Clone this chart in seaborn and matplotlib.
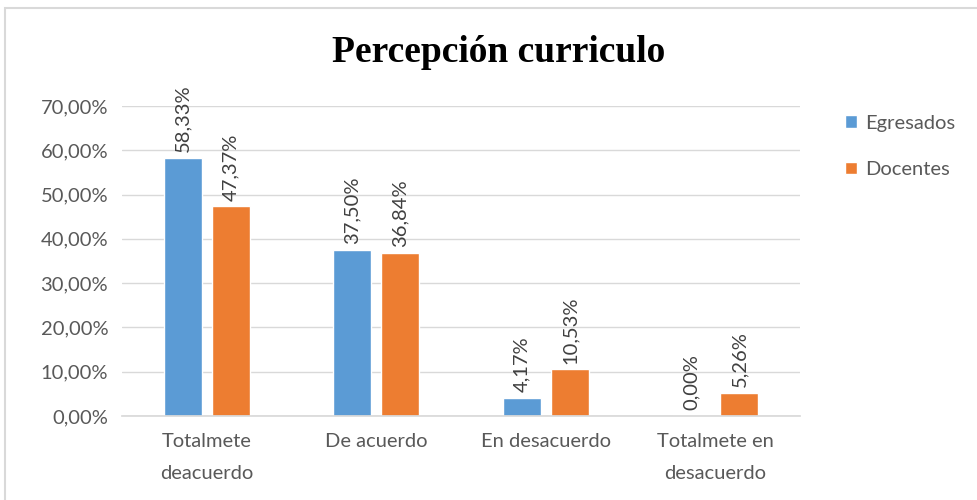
import pandas as pd
import seaborn as sns
import matplotlib.pyplot as plt
from matplotlib.patches import Rectangle
from matplotlib.ticker import FuncFormatter

# --- data ---
categories = ['Totalmete\ndeacuerdo', 'De acuerdo', 'En desacuerdo', 'Totalmete en\ndesacuerdo']
series = ['Egresados', 'Docentes']
egresados = [0.5833, 0.3750, 0.0417, 0.0]
docentes = [0.4737, 0.3684, 0.1053, 0.0526]
colors = ['#5B9BD5', '#ED7D31']

df = pd.DataFrame({
    'categoria': categories * 2,
    'grupo': [series[0]] * 4 + [series[1]] * 4,
    'valor': egresados + docentes,
})


def pct(v, pos=None):
    return f"{v * 100:.2f}%".replace('.', ',')


sns.set_theme(style="white")
plt.rcParams['font.family'] = ['Lato', 'DejaVu Sans']

fs = 14.5
fig = plt.figure(figsize=(9.77, 5.0), dpi=100)
ax = fig.add_axes([0.125, 0.168, 0.694, 0.62])

sns.barplot(data=df, x='categoria', y='valor', hue='grupo', palette=colors,
            width=0.566, gap=0.21, ax=ax, saturation=1)

ax.set_ylim(0, 0.70)
ax.set_yticks([i / 10 for i in range(8)])
ax.yaxis.set_major_formatter(FuncFormatter(pct))
ax.grid(axis='y', color='#D9D9D9', linewidth=1)
ax.set_axisbelow(True)
for side in ['top', 'left', 'right']:
    ax.spines[side].set_visible(False)
ax.spines['bottom'].set_color('#D9D9D9')
ax.tick_params(axis='both', length=0, labelsize=fs, colors='#595959', pad=10)
ax.tick_params(axis='x', pad=12)
for lab in ax.get_xticklabels():
    lab.set_linespacing(2.1)
    lab.set_va('top')
ax.set_xlabel('')
ax.set_ylabel('')

# rotated data labels above each bar
for container in ax.containers:
    for bar in container:
        h = bar.get_height()
        ax.annotate(pct(h), (bar.get_x() + bar.get_width() / 2, h),
                    xytext=(0, 4), textcoords='offset points',
                    rotation=90, ha='center', va='bottom',
                    fontsize=fs, color='#404040', clip_on=False)

ax.legend(loc='upper left', bbox_to_anchor=(1.04, 1.03), frameon=False,
          fontsize=fs, handlelength=0.6, handleheight=0.6,
          labelspacing=1.45, handletextpad=0.4, labelcolor='#595959')

fig.text(0.510, 0.895, 'Percepción curriculo', ha='center', va='center',
         fontsize=27, fontweight='bold', family='Liberation Serif', color='black')

# outer chart border (light gray frame)
fig.patches.append(Rectangle((0.005, -0.1), 1.2, 1.084, transform=fig.transFigure,
                             fill=False, edgecolor='#D9D9D9', linewidth=1.5))

fig.savefig('out.png', dpi=100)
